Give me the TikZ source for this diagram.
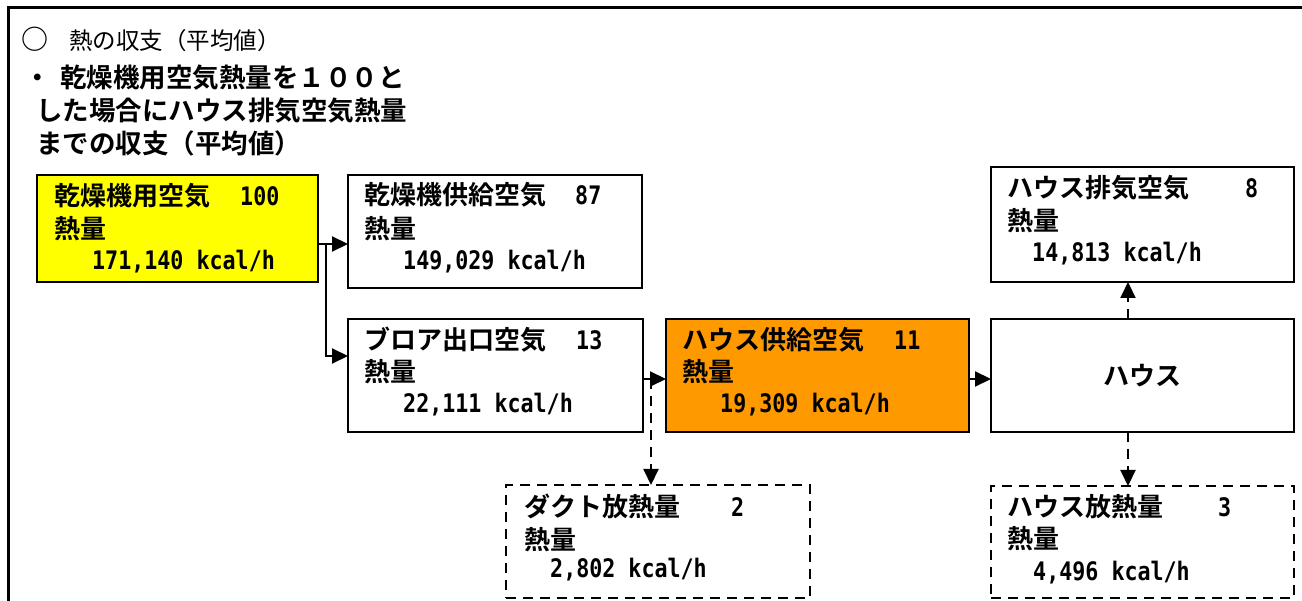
\documentclass[tikz,border=0pt]{standalone}
\usepackage{fontspec}
\newfontfamily\jp{Noto Sans CJK JP}[BoldFont={Noto Sans CJK JP Bold}]
\newfontfamily\mono{DejaVu Sans Mono}[FakeStretch=0.85]
\usetikzlibrary{arrows.meta}
\definecolor{boxyellow}{RGB}{255,255,0}
\definecolor{boxorange}{RGB}{255,153,0}
\begin{document}
\begin{tikzpicture}[x=1pt,y=-1pt,
  box/.style={draw, line width=2.2pt, anchor=north west, inner sep=0pt, outer sep=0pt},
  dbox/.style={box, dash pattern=on 10pt off 7pt},
  lab/.style={anchor=base west, inner sep=0pt, font=\jp\bfseries\fontsize{26}{30}\selectfont},
  num/.style={anchor=base west, inner sep=0pt, font=\mono\bfseries\fontsize{25.5}{28}\selectfont},
  hd/.style={anchor=base west, inner sep=0pt, font=\jp\bfseries\fontsize{26.5}{30}\selectfont},
  arr/.style={line width=2pt, -{Triangle[length=16pt,width=15pt]}},
  darr/.style={arr, dash pattern=on 10pt off 7pt},
]
\useasboundingbox (0,0) rectangle (1302,601);
\fill[white] (0,0) rectangle (1302,601);
\draw[line width=3pt] (8,640) -- (8,8) -- (1340,8);

% headings
\node[anchor=base west, inner sep=0pt, font=\jp\fontsize{23.5}{28}\selectfont] (h0) at (21,50) {{\bfseries\fontsize{27}{28}\selectfont ○}\hspace{21pt}熱の収支（平均値）};
\node[hd] (h1) at (24,88) {・\hspace{9.5pt}乾燥機用空気熱量を１００と};
\node[hd] (h2) at (36,121) {した場合にハウス排気空気熱量};
\node[hd] (h3) at (36,154) {までの収支（平均値）};

% boxes
\node[box, fill=boxyellow, minimum width=281pt, minimum height=107pt] (b1) at (37,175) {};
\node[box, minimum width=294pt, minimum height=113pt] (b2) at (348,175) {};
\node[box, minimum width=295pt, minimum height=113pt] (b3) at (348,319) {};
\node[box, fill=boxorange, minimum width=303pt, minimum height=113pt] (b4) at (666,319) {};
\node[box, minimum width=303pt, minimum height=113pt, font=\jp\bfseries\fontsize{26}{30}\selectfont] (b5) at (991,319) {ハウス};
\node[box, minimum width=303pt, minimum height=115pt] (b6) at (991,167) {};
\node[dbox, minimum width=303pt, minimum height=112pt] (b7) at (991,486) {};
\node[dbox, minimum width=304pt, minimum height=113pt] (b8) at (506,485) {};

% texts
\node[lab] (t1a) at (54,206) {乾燥機用空気};
\node[num] (t1n) at (240,206) {100};
\node[lab] (t1b) at (54,239) {熱量};
\node[num] (t1v) at (92,270) {171,140 kcal/h};

\node[lab] (t2a) at (364,205) {乾燥機供給空気};
\node[num] (t2n) at (575,205) {87};
\node[lab] (t2b) at (364,239) {熱量};
\node[num] (t2v) at (403,270) {149,029 kcal/h};

\node[lab] (t3a) at (364,350) {ブロア出口空気};
\node[num] (t3n) at (576,350) {13};
\node[lab] (t3b) at (364,382) {熱量};
\node[num] (t3v) at (403,413) {22,111 kcal/h};

\node[lab] (t4a) at (682,350) {ハウス供給空気};
\node[num] (t4n) at (894,350) {11};
\node[lab] (t4b) at (682,382) {熱量};
\node[num] (t4v) at (720,413) {19,309 kcal/h};

\node[lab] (t6a) at (1007,198) {ハウス排気空気};
\node[num] (t6n) at (1245,198) {8};
\node[lab] (t6b) at (1007,231) {熱量};
\node[num] (t6v) at (1032,262) {14,813 kcal/h};

\node[lab] (t7a) at (1007,517) {ハウス放熱量};
\node[num] (t7n) at (1218,517) {3};
\node[lab] (t7b) at (1007,548) {熱量};
\node[num] (t7v) at (1033,580) {4,496 kcal/h};

\node[lab] (t8a) at (524,516) {ダクト放熱量};
\node[num] (t8n) at (731,516) {2};
\node[lab] (t8b) at (524,549) {熱量};
\node[num] (t8v) at (550,577) {2,802 kcal/h};

% connectors
\coordinate (j1) at (326,244);
\coordinate (j2) at (326,356);
\coordinate (j3) at (651,379);
\coordinate (j4) at (1128,379);
\draw[arr] (b1.east |- j1) -- (b2.west |- j1);
\draw[arr] (j1) -- (j2) -- (b3.west |- j2);
\draw[arr] (b3.east |- j3) -- (b4.west |- j3);
\draw[darr] (j3) -- (j3 |- b8.north);
\draw[arr] (b4.east |- j4) -- (b5.west |- j4);
\draw[darr] (b5.north -| j4) -- (b6.south -| j4);
\draw[darr] (b5.south -| j4) -- (b7.north -| j4);
\end{tikzpicture}
\end{document}
